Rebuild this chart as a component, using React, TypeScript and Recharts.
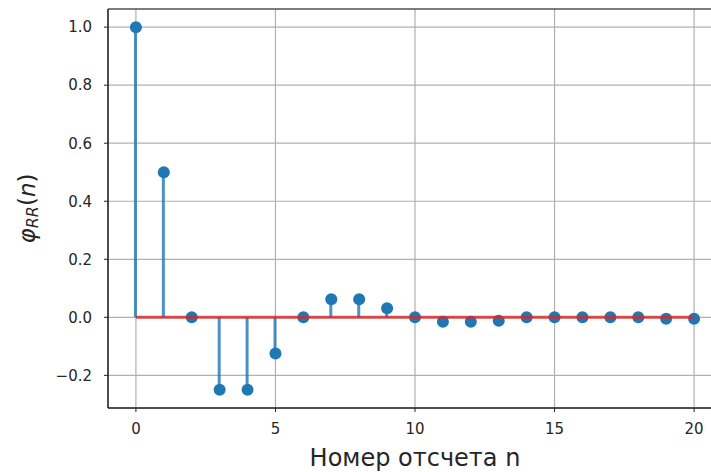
import {
  Bar,
  CartesianGrid,
  ComposedChart,
  Line,
  ReferenceArea,
  Scatter,
  XAxis,
  YAxis,
} from 'recharts';

const samples = [0, 1, 2, 3, 4, 5, 6, 7, 8, 9, 10, 11, 12, 13, 14, 15, 16, 17, 18, 19, 20];
const phiValues = [
  1.0, 0.5, 0.0, -0.25, -0.25, -0.125, 0.0, 0.0625, 0.0625, 0.03125, 0.0,
  -0.0156, -0.0156, -0.0117, 0.0, 0.0, 0.0, 0.0, 0.0, -0.005, -0.005,
];
const baselineSamples = [0, 20];
const xTicks = [0, 5, 10, 15, 20];
const yTicks = [-0.2, 0, 0.2, 0.4, 0.6, 0.8, 1.0];

const data = samples.map((n, i) => ({ n, phi: phiValues[i] }));
const baseline = baselineSamples.map((n) => ({ n, phi: 0 }));

const FONT = '"DejaVu Sans", sans-serif';
const TEXT = '#262626';

const fmtY = (v: number) => (v < 0 ? '\u2212' + Math.abs(v).toFixed(1) : v.toFixed(1));

function YLabel(props: any) {
  const vb = props.viewBox || { x: 0, y: 9, width: 108, height: 399 };
  const cx = 27;
  const cy = vb.y + vb.height / 2;
  return (
    <text
      x={cx}
      y={cy}
      transform={`rotate(-90 ${cx} ${cy})`}
      textAnchor="middle"
      dominantBaseline="central"
      fontFamily={FONT}
      fontSize={23}
      fill={TEXT}
    >
      <tspan fontStyle="italic">φ</tspan>
      <tspan fontStyle="italic" fontSize={16} dy={5}>RR</tspan>
      <tspan dy={-5}>(</tspan>
      <tspan fontStyle="italic">n</tspan>
      <tspan>)</tspan>
    </text>
  );
}

export default function App() {
  return (
    <div style={{ position: 'absolute', left: 0, top: 0, width: 711, height: 472, overflow: 'hidden', background: '#fff' }}>
      <ComposedChart width={724} height={472} data={data} margin={{ top: 9, right: 2, left: 0, bottom: 0 }}>
        <CartesianGrid stroke="#b0b0b0" strokeWidth={1.2} />
        <XAxis
          dataKey="n"
          type="number"
          domain={[-1, 21]}
          ticks={xTicks}
          allowDataOverflow
          height={64}
          tickSize={4}
          tickMargin={11}
          stroke="#222"
          tick={{ fill: TEXT, fontSize: 15, fontFamily: FONT }}
          label={{ value: 'Номер отсчета n', position: 'insideBottom', offset: 6, fontSize: 24, fontFamily: FONT, fill: TEXT }}
        />
        <YAxis
          type="number"
          domain={[-0.3125, 1.0625]}
          ticks={yTicks}
          allowDataOverflow
          width={108}
          tickSize={4}
          tickMargin={12}
          stroke="#222"
          tickFormatter={fmtY}
          tick={{ fill: TEXT, fontSize: 15, fontFamily: FONT }}
          label={<YLabel />}
        />
        <ReferenceArea x1={-1} x2={21} y1={-0.3125} y2={1.0625} fill="none" stroke="#222" strokeWidth={1} ifOverflow="visible" />
        <Bar dataKey="phi" fill="#1f77b4" fillOpacity={0.8} barSize={3} isAnimationActive={false} />
        <Scatter dataKey="phi" fill="#1f77b4" isAnimationActive={false} shape={(p: any) => <circle cx={p.cx} cy={p.cy} r={6} fill="#1f77b4" />} />
        <Line data={baseline} dataKey="phi" stroke="#d62728" strokeOpacity={0.8} strokeWidth={3} dot={false} isAnimationActive={false} zIndex={700} />
      </ComposedChart>
    </div>
  );
}
